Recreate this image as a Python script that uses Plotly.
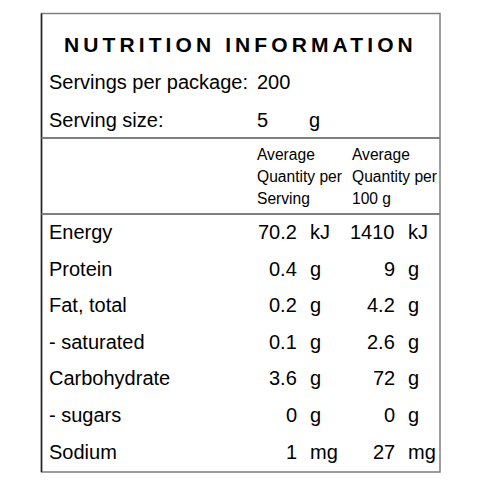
import plotly.graph_objects as go

# table content
nutrients = ['Energy', 'Protein', 'Fat, total', '- saturated', 'Carbohydrate', '- sugars', 'Sodium']
per_serving = [70.2, 0.4, 0.2, 0.1, 3.6, 0, 1]
per_100g = [1410, 9, 4.2, 2.6, 72, 0, 27]
units = ['kJ', 'g', 'g', 'g', 'g', 'g', 'mg']

servings_per_package = 200
serving_size = 5
serving_unit = 'g'
header_serving = ['Average', 'Quantity per', 'Serving']
header_100g = ['Average', 'Quantity per', '100 g']

FONT = 'Liberation Sans, Arial, sans-serif'
PAGE = 483
OFFSET = 8  # default body margin of the page
W = H = PAGE - 2 * OFFSET

# layout in page pixel coords
BOX = (41.5, 13.5, 440, 472)
LABEL_X = 47
SERV_X = 298.5
SERV_UNIT_X = 307.5
HUND_X = 396.5
HUND_UNIT_X = 405.5
ROW_Y0 = 232
ROW_STEP = 36.6
HEAD_Y0 = 154
HEAD_STEP = 22

fig = go.Figure()
fig.add_trace(go.Scatter(x=[], y=[], showlegend=False))

ann = []


def text(x, y, s, size=20, xanchor='left', yanchor='middle'):
    ann.append(dict(x=x, y=y, xref='x', yref='y', text=s, showarrow=False,
                    xanchor=xanchor, yanchor=yanchor, align='left',
                    font=dict(family=FONT, size=size, color='black')))


text(240.5, 44, '<span style="letter-spacing:4.1px"><b>NUTRITION INFORMATION</b></span>',
     size=21, xanchor='center')
text(LABEL_X, 82, 'Servings per package:')
text(255, 82, str(servings_per_package))
text(LABEL_X, 120, 'Serving size:')
text(255, 120, str(serving_size))
text(307, 120, serving_unit)

for j in range(len(header_serving)):
    text(254.5, HEAD_Y0 + j * HEAD_STEP, header_serving[j], size=15.6)
    text(349.5, HEAD_Y0 + j * HEAD_STEP, header_100g[j], size=15.6)

for i, name in enumerate(nutrients):
    y = ROW_Y0 + i * ROW_STEP
    text(LABEL_X, y, name)
    text(SERV_X, y, f'{per_serving[i]:g}', xanchor='right')
    text(SERV_UNIT_X, y, units[i])
    text(HUND_X, y, f'{per_100g[i]:g}', xanchor='right')
    text(HUND_UNIT_X, y, units[i])

x0, y0, x1, y1 = BOX
shapes = [
    dict(type='rect', x0=x0, y0=y0, x1=x1, y1=y1, xref='x', yref='y',
         line=dict(color='#7f7f7f', width=1.5)),
    dict(type='line', x0=x0, y0=y0, x1=x0, y1=y1, xref='x', yref='y',
         line=dict(color='#222222', width=1.5)),
    dict(type='line', x0=x0, y0=138, x1=x1, y1=138, xref='x', yref='y',
         line=dict(color='#808080', width=2)),
    dict(type='line', x0=x0, y0=214, x1=x1, y1=214, xref='x', yref='y',
         line=dict(color='#808080', width=2)),
]

fig.update_layout(
    width=W, height=H,
    margin=dict(l=0, r=0, t=0, b=0),
    paper_bgcolor='white', plot_bgcolor='white',
    xaxis=dict(range=[OFFSET, OFFSET + W], visible=False, fixedrange=True),
    yaxis=dict(range=[OFFSET + H, OFFSET], visible=False, fixedrange=True),
    annotations=ann,
    shapes=shapes,
)

fig.write_html('out.html')
